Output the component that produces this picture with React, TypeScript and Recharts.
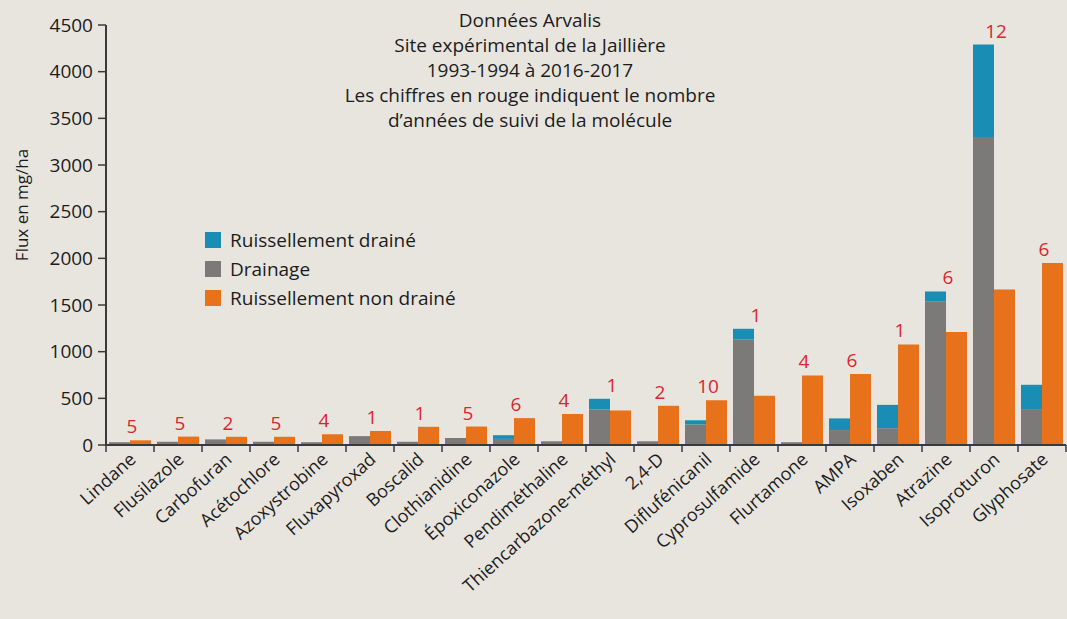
import React from 'react';
import { ComposedChart, Bar, Line, XAxis, YAxis, LabelList } from 'recharts';

const categories = ['Lindane', 'Flusilazole', 'Carbofuran', 'Acétochlore', 'Azoxystrobine', 'Fluxapyroxad', 'Boscalid', 'Clothianidine', 'Époxiconazole', 'Pendiméthaline', 'Thiencarbazone-méthyl', '2,4-D', 'Diflufénicanil', 'Cyprosulfamide', 'Flurtamone', 'AMPA', 'Isoxaben', 'Atrazine', 'Isoproturon', 'Glyphosate'];
const drainage = [30, 35, 60, 35, 30, 95, 35, 75, 65, 40, 380, 40, 220, 1130, 30, 160, 180, 1540, 3300, 385];
const ruissellementDraine = [0, 0, 0, 0, 0, 0, 0, 0, 40, 0, 115, 0, 45, 115, 0, 125, 250, 105, 990, 260];
const ruissellementNonDraine = [50, 90, 88, 88, 115, 150, 195, 198, 288, 332, 370, 420, 480, 528, 745, 760, 1078, 1212, 1665, 1950];
const annees = [5, 5, 2, 5, 4, 1, 1, 5, 6, 4, 1, 2, 10, 1, 4, 6, 1, 6, 12, 6];
const yTicks = [0, 500, 1000, 1500, 2000, 2500, 3000, 3500, 4000, 4500];
const titleLines = ['Données Arvalis', 'Site expérimental de la Jaillière', '1993-1994 à 2016-2017', 'Les chiffres en rouge indiquent le nombre', 'd\u2019années de suivi de la molécule'];
const legendItems = [
  { name: 'Ruissellement drainé', color: '#1a8db4' },
  { name: 'Drainage', color: '#7c7a78' },
  { name: 'Ruissellement non drainé', color: '#e8711c' },
];

const data = categories.map((c, i) => ({
  name: c,
  drainage: drainage[i],
  draine: ruissellementDraine[i],
  nonDraine: ruissellementNonDraine[i],
  annees: annees[i],
  top: Math.max(drainage[i] + ruissellementDraine[i], ruissellementNonDraine[i]),
}));

const W = 1067;
const H = 619;
const YW = 106;
const MR = 1;
const BAND = (W - YW - MR) / categories.length;
const FONT = '"Open Sans", "Noto Sans", sans-serif';
const AXIS = '#3b3a39';
const TEXT = '#1c1c1c';

const XTick = (props: any) => {
  const { x, y, payload, index } = props;
  const half = BAND / 2;
  const tx = x + 7;
  const ty = y + 16;
  return (
    <g>
      <line x1={x - half} y1={y} x2={x - half} y2={y + 7} stroke={AXIS} strokeWidth={1.5} />
      {index === categories.length - 1 && (
        <line x1={x + half} y1={y} x2={x + half} y2={y + 7} stroke={AXIS} strokeWidth={1.5} />
      )}
      <text x={tx} y={ty} textAnchor="end" transform={`rotate(-42, ${tx}, ${ty})`} fontSize={18} fontWeight={500} fontFamily={FONT} fill={TEXT}>
        {payload.value}
      </text>
    </g>
  );
};

const YearLabel = (props: any) => {
  const { x, y, value } = props;
  return (
    <text x={x + 2} y={y - 7} textAnchor="middle" fontSize={19} fontFamily={FONT} fill="#d8262f">
      {value}
    </text>
  );
};

export default function App() {
  return (
    <div style={{ position: 'absolute', left: 0, top: 0, width: W, height: H, background: '#e8e5df', overflow: 'hidden' }}>
      <ComposedChart width={W} height={H} data={data} margin={{ top: 25, right: MR, left: 0, bottom: 0 }} barCategoryGap={3} barGap={0}>
        <XAxis dataKey="name" interval={0} tick={<XTick />} tickLine={false} tickSize={0} tickMargin={0} height={174} axisLine={{ stroke: AXIS, strokeWidth: 2 }} />
        <YAxis
          domain={[0, 4500]}
          ticks={yTicks}
          width={YW}
          tickSize={8}
          tickMargin={5}
          tickLine={{ stroke: AXIS, strokeWidth: 1.5 }}
          axisLine={{ stroke: AXIS, strokeWidth: 2 }}
          tick={{ fontSize: 19, fontWeight: 500, fontFamily: FONT, fill: TEXT }}
        />
        <Bar dataKey="drainage" stackId="a" fill="#7c7a78" isAnimationActive={false} name="Drainage" />
        <Bar dataKey="draine" stackId="a" fill="#1a8db4" isAnimationActive={false} name="Ruissellement drainé" />
        <Bar dataKey="nonDraine" fill="#e8711c" isAnimationActive={false} name="Ruissellement non drainé" />
        <Line dataKey="top" stroke="none" dot={false} activeDot={false} isAnimationActive={false} legendType="none">
          <LabelList dataKey="annees" content={<YearLabel />} />
        </Line>
        <text x={21} y={205} transform="rotate(-90, 21, 205)" textAnchor="middle" dominantBaseline="central" fontSize={17} fontWeight={500} fontFamily={FONT} fill={TEXT}>
          Flux en mg/ha
        </text>
      </ComposedChart>
      <div style={{ position: 'absolute', left: 205, top: 225, fontFamily: FONT, fontSize: 19, fontWeight: 500, color: TEXT }}>
        {legendItems.map((it) => (
          <div key={it.name} style={{ display: 'flex', alignItems: 'center', height: 29 }}>
            <span style={{ display: 'inline-block', width: 16, height: 16, background: it.color, marginRight: 9 }} />
            <span>{it.name}</span>
          </div>
        ))}
      </div>
      <div style={{ position: 'absolute', left: 230, top: 8, width: 600, textAlign: 'center', fontFamily: FONT, fontSize: 19, fontWeight: 500, lineHeight: '25px', color: TEXT }}>
        {titleLines.map((l) => (
          <div key={l}>{l}</div>
        ))}
      </div>
    </div>
  );
}
